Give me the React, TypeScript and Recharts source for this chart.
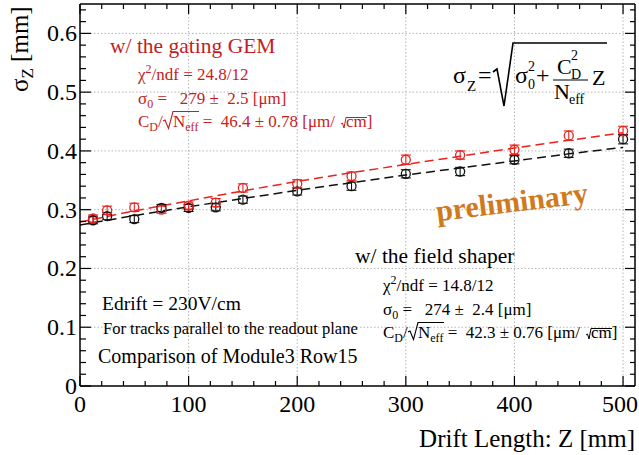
import React from 'react';
import { ComposedChart, XAxis, YAxis, Scatter, Line, ErrorBar, ReferenceLine } from 'recharts';

// measured points (drift length in mm, resolution in mm)
const driftZ = [12, 25, 50, 75, 100, 125, 150, 200, 250, 300, 350, 400, 450, 500];
const gemSigma = [0.285, 0.299, 0.304, 0.300, 0.307, 0.312, 0.337, 0.344, 0.357, 0.385, 0.393, 0.402, 0.426, 0.434];
const gemErr = [0.006, 0.007, 0.007, 0.006, 0.006, 0.007, 0.007, 0.007, 0.007, 0.008, 0.007, 0.008, 0.008, 0.008];
const shaperSigma = [0.282, 0.289, 0.284, 0.303, 0.303, 0.304, 0.317, 0.331, 0.340, 0.361, 0.365, 0.385, 0.396, 0.420];
const shaperErr = [0.006, 0.006, 0.006, 0.006, 0.006, 0.006, 0.006, 0.006, 0.007, 0.007, 0.007, 0.007, 0.007, 0.008];

// fitted curves
const fitZ = [0, 50, 100, 150, 200, 250, 300, 350, 400, 450, 500];
const gemFit = [0.279, 0.298, 0.315, 0.332, 0.348, 0.363, 0.377, 0.391, 0.405, 0.418, 0.431];
const shaperFit = [0.274, 0.290, 0.305, 0.319, 0.333, 0.346, 0.359, 0.371, 0.383, 0.395, 0.406];

const xMajor = [0, 100, 200, 300, 400, 500];
const yMajor = [0, 0.1, 0.2, 0.3, 0.4, 0.5, 0.6];
const xTicks = Array.from({ length: 26 }, (_, i) => i * 20);
const yTicks = Array.from({ length: 33 }, (_, i) => +(i * 0.02).toFixed(2));

const SERIF = "'Liberation Serif', 'Times New Roman', serif";
const RED = '#e8231f';
const RED_TXT = '#c41d23';
const ORANGE = '#cf7a1d';

const gemPoints = driftZ.map((z, i) => ({ z, s: gemSigma[i], err: gemErr[i] }));
const shaperPoints = driftZ.map((z, i) => ({ z, s: shaperSigma[i], err: shaperErr[i] }));
const gemLine = fitZ.map((z, i) => ({ z, s: gemFit[i] }));
const shaperLine = fitZ.map((z, i) => ({ z, s: shaperFit[i] }));

const isMajorX = (v: number) => xMajor.includes(v);
const isMajorY = (v: number) => yMajor.some((m) => Math.abs(m - v) < 1e-6);

const XTick = (props: any) => {
  const { x, y, payload, side } = props;
  const v = payload.value;
  const major = isMajorX(v);
  const len = major ? 10 : 5;
  const dir = side === 'top' ? 1 : -1;
  // the last label sits against the right edge of the picture
  const last = v === xMajor[xMajor.length - 1];
  return (
    <g>
      <line x1={x} x2={x} y1={y} y2={y + dir * len} stroke="#000" strokeWidth={1.2} />
      {side === 'bottom' && major && (
        <text
          x={last ? x + 15 : x}
          y={y + 26}
          textAnchor={last ? 'end' : 'middle'}
          fontSize={24}
          fontFamily={SERIF}
          fill="#000"
        >
          {v}
        </text>
      )}
    </g>
  );
};

const YTick = (props: any) => {
  const { x, y, payload, side } = props;
  const v = payload.value;
  const major = isMajorY(v);
  const len = side === 'left' ? (major ? 11 : 6) : major ? 10 : 5;
  const dir = side === 'left' ? 1 : -1;
  return (
    <g>
      <line x1={x} x2={x + dir * len} y1={y} y2={y} stroke="#000" strokeWidth={1.2} />
      {side === 'left' && major && (
        <text x={x - 3} y={y + 8} textAnchor="end" fontSize={24} fontFamily={SERIF} fill="#000">
          {v === 0 ? '0' : v.toFixed(1)}
        </text>
      )}
    </g>
  );
};

const Marker = (color: string) => (p: any) => (
  <circle cx={p.cx} cy={p.cy} r={4.5} fill="none" stroke={color} strokeWidth={1.3} />
);

const nb = (s: string) => s.replace(/ /g, '\u00a0');

function FitBlock({ x, y, color, chi, s0, cd }: { x: number; y: number; color: string; chi: string; s0: string; cd: string }) {
  const fs = 17;
  const sfs = 12;
  const y2 = y + 24;
  const y3 = y + 47;
  const rad1 = x + 25;
  const nEnd = rad1 + 36;
  const rad2 = nEnd + 142;
  return (
    <g fill={color} fontSize={fs} fontFamily={SERIF}>
      <text x={x} y={y}>
        χ<tspan dy={-7} fontSize={sfs}>2</tspan>
        <tspan dy={7}>{nb(`/ndf = ${chi}`)}</tspan>
      </text>
      <text x={x} y={y2}>
        σ<tspan dy={4} fontSize={sfs}>0</tspan>
        <tspan dy={-4}>{nb(` =   ${s0} [μm]`)}</tspan>
      </text>
      <text x={x} y={y3}>
        C<tspan dy={4} fontSize={sfs}>D</tspan>
        <tspan dy={-4}>/</tspan>
        <tspan x={rad1 + 10}>N</tspan>
        <tspan dy={4} fontSize={sfs}>eff</tspan>
        <tspan dy={-4}>{nb(` =  ${cd} [μm/ `)}</tspan>
        <tspan x={rad2 + 5}>cm]</tspan>
      </text>
      <path d={`M${rad1},${y3 - 6} l2,-1 l3.5,8.5 l4.5,-17 H${nEnd}`} stroke={color} strokeWidth={1.1} fill="none" />
      <path d={`M${rad2},${y3 - 3} l1.5,-1 l1.5,5 l2,-10.5 H${rad2 + 26}`} stroke={color} strokeWidth={1} fill="none" />
    </g>
  );
}

function Annotations() {
  return (
    <svg width={639} height={455} style={{ position: 'absolute', left: 0, top: 0, pointerEvents: 'none' }}>
      {/* axis titles */}
      <text transform="translate(28,92) rotate(-90)" fontSize={25} fontFamily={SERIF} fill="#000">
        σ<tspan dy={5} fontSize={17}>Z</tspan>
        <tspan dy={-5}>{nb(' [mm]')}</tspan>
      </text>
      <text x={635} y={447} textAnchor="end" fontSize={25} fontFamily={SERIF} fill="#000">
        Drift Length: Z [mm]
      </text>

      {/* gating GEM fit */}
      <text x={110} y={53} fontSize={21.5} fontFamily={SERIF} fill={RED_TXT}>
        w/ the gating GEM
      </text>
      <FitBlock x={138} y={80} color={RED_TXT} chi="24.8/12" s0="279 ±  2.5" cd="46.4 ± 0.78" />

      {/* field shaper fit */}
      <text x={355} y={263} fontSize={21.5} fontFamily={SERIF} fill="#000">
        w/ the field shaper
      </text>
      <FitBlock x={383} y={291} color="#000" chi="14.8/12" s0="274 ±  2.4" cd="42.3 ± 0.76" />

      {/* formula */}
      <g fontFamily={SERIF} fill="#000">
        <text x={453} y={83} fontSize={24}>σ</text>
        <text x={467} y={91} fontSize={15}>Z</text>
        <text x={478} y={83} fontSize={24}>=</text>
        <path d="M493,72 l4,-3 l7,37 l9,-63 H607" stroke="#000" strokeWidth={1.6} fill="none" />
        <text x={515} y={83} fontSize={24}>σ</text>
        <text x={528} y={71} fontSize={14}>2</text>
        <text x={528} y={89} fontSize={14}>0</text>
        <text x={536} y={83} fontSize={24}>+</text>
        <text x={557} y={74} fontSize={22}>C</text>
        <text x={571} y={60} fontSize={14}>2</text>
        <text x={571} y={79} fontSize={14}>D</text>
        <line x1={553} x2={588} y1={80} y2={80} stroke="#000" strokeWidth={1.2} />
        <text x={554} y={99} fontSize={22}>N</text>
        <text x={569} y={104} fontSize={14}>eff</text>
        <text x={592} y={85} fontSize={22}>Z</text>
      </g>

      <text
        x={513}
        y={212}
        textAnchor="middle"
        fontSize={30}
        fontWeight="bold"
        fontFamily={SERIF}
        fill={ORANGE}
        transform="rotate(-7 513 212)"
      >
        preliminary
      </text>

      <g fontFamily={SERIF} fill="#000">
        <text x={102} y={310} fontSize={19.5}>Edrift = 230V/cm</text>
        <text x={103} y={334} fontSize={16.5}>For tracks parallel to the readout plane</text>
        <text x={98} y={363} fontSize={20}>Comparison of Module3 Row15</text>
      </g>
    </svg>
  );
}

export default function App() {
  const grid = { stroke: '#b4b4b4', strokeDasharray: '1.5 2', strokeWidth: 1 };
  return (
    <div style={{ position: 'absolute', left: 0, top: 0, width: 639, height: 455, background: '#fff' }}>
      <ComposedChart width={639} height={455} margin={{ top: 0, right: 0, bottom: 0, left: 0 }}>
        <XAxis
          xAxisId="b"
          dataKey="z"
          type="number"
          domain={[0, 511]}
          allowDataOverflow
          ticks={xTicks}
          interval={0}
          height={69}
          tickSize={0}
          tickMargin={0}
          tickLine={false}
          axisLine={{ stroke: '#000', strokeWidth: 1.5 }}
          tick={(p: any) => <XTick {...p} side="bottom" />}
        />
        <XAxis
          xAxisId="t"
          orientation="top"
          dataKey="z"
          type="number"
          domain={[0, 511]}
          allowDataOverflow
          ticks={xTicks}
          interval={0}
          height={4}
          tickSize={0}
          tickMargin={0}
          tickLine={false}
          axisLine={{ stroke: '#000', strokeWidth: 1.5 }}
          tick={(p: any) => <XTick {...p} side="top" />}
        />
        <YAxis
          yAxisId="l"
          type="number"
          domain={[0, 0.65]}
          allowDataOverflow
          ticks={yTicks}
          interval={0}
          width={80}
          tickSize={0}
          tickMargin={0}
          tickLine={false}
          axisLine={{ stroke: '#000', strokeWidth: 1.5 }}
          tick={(p: any) => <YTick {...p} side="left" />}
        />
        <YAxis
          yAxisId="r"
          orientation="right"
          type="number"
          domain={[0, 0.65]}
          allowDataOverflow
          ticks={yTicks}
          interval={0}
          width={4}
          tickSize={0}
          tickMargin={0}
          tickLine={false}
          axisLine={{ stroke: '#000', strokeWidth: 1.5 }}
          tick={(p: any) => <YTick {...p} side="right" />}
        />

        {xMajor.slice(1).map((v) => (
          <ReferenceLine key={'gx' + v} x={v} xAxisId="b" yAxisId="l" {...grid} />
        ))}
        {yMajor.slice(1).map((v) => (
          <ReferenceLine key={'gy' + v} y={v} xAxisId="b" yAxisId="l" {...grid} />
        ))}

        <Line
          data={shaperLine}
          dataKey="s"
          xAxisId="b"
          yAxisId="l"
          type="linear"
          stroke="#111"
          strokeWidth={1.5}
          strokeDasharray="9 5"
          dot={false}
          isAnimationActive={false}
        />
        <Line
          data={gemLine}
          dataKey="s"
          xAxisId="b"
          yAxisId="l"
          type="linear"
          stroke={RED}
          strokeWidth={1.5}
          strokeDasharray="9 5"
          dot={false}
          isAnimationActive={false}
        />
        <Scatter data={shaperPoints} dataKey="s" xAxisId="b" yAxisId="l" shape={Marker('#111')} isAnimationActive={false}>
          <ErrorBar dataKey="err" direction="y" width={5} stroke="#111" strokeWidth={1.1} />
        </Scatter>
        <Scatter data={gemPoints} dataKey="s" xAxisId="b" yAxisId="l" shape={Marker(RED)} isAnimationActive={false}>
          <ErrorBar dataKey="err" direction="y" width={5} stroke={RED} strokeWidth={1.1} />
        </Scatter>
      </ComposedChart>
      <Annotations />
    </div>
  );
}
